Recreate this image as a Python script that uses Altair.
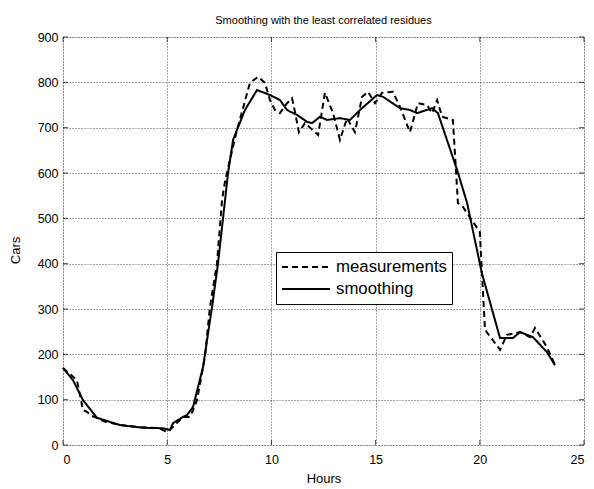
import altair as alt
import pandas as pd

# --- data ---
meas_hours = [0.0, 0.67, 0.96, 1.15, 1.39, 2.0, 2.74, 3.5, 4.2, 4.6, 4.99, 5.13, 5.76, 6.09, 6.24,
              6.43, 6.81, 7.05, 7.39, 7.63, 7.77, 8.01, 8.35, 8.97, 9.36, 9.69, 9.93, 10.17, 10.41,
              10.75, 10.99, 11.13, 11.32, 11.61, 12.24, 12.57, 12.96, 13.29, 13.63, 14.01, 14.35,
              14.64, 14.97, 15.31, 15.83, 16.17, 16.65, 17.03, 17.47, 17.71, 17.95, 18.19, 18.71,
              18.95, 19.19, 20.0, 20.25, 20.97, 21.3, 21.93, 22.41, 22.65, 23.22, 23.61]
meas_values = [170, 143, 77, 73, 64, 52, 44, 40, 38, 37, 29, 33, 62, 62, 77,
               99, 194, 304, 401, 540, 580, 629, 695, 799, 812, 799, 761, 739, 732,
               754, 765, 735, 690, 710, 684, 777, 732, 673, 721, 690, 768,
               779, 754, 777, 779, 746, 690, 754, 750, 732, 761, 724, 717,
               534, 525, 470, 254, 210, 243, 249, 238, 258, 216, 176]

smooth_hours = [0.0, 0.48, 0.96, 1.63, 2.74, 3.84, 4.8, 5.13, 5.28, 5.76, 5.95, 6.24, 6.72, 7.15,
                7.44, 7.92, 8.16, 8.73, 9.31, 9.93, 10.41, 10.75, 11.23, 11.71, 11.95, 12.33,
                12.67, 13.29, 13.77, 14.25, 15.07, 15.36, 16.17, 16.65, 16.99, 17.71, 17.99,
                18.91, 19.39, 20.1, 20.97, 21.59, 21.93, 22.55, 23.22, 23.61]
smooth_values = [170, 143, 99, 60, 44, 38, 37, 33, 48, 62, 66, 84, 172, 304,
                 401, 600, 673, 739, 783, 772, 761, 739, 728, 713, 710, 724,
                 717, 721, 717, 739, 772, 768, 743, 739, 732, 743, 732,
                 607, 534, 379, 236, 236, 249, 238, 205, 176]

series_names = ["measurements", "smoothing"]
x_ticks = [0, 5, 10, 15, 20, 25]
y_ticks = [0, 100, 200, 300, 400, 500, 600, 700, 800, 900]

W, H = 521, 408
FONT = "Liberation Sans"

df = pd.concat([
    pd.DataFrame({"Hours": meas_hours, "Cars": meas_values, "series": series_names[0],
                  "order": range(len(meas_hours))}),
    pd.DataFrame({"Hours": smooth_hours, "Cars": smooth_values, "series": series_names[1],
                  "order": range(len(smooth_hours))}),
])

xscale = alt.Scale(domain=[0, 25], nice=False, zero=False)
yscale = alt.Scale(domain=[0, 900], nice=False)

grid_common = dict(grid=True, gridColor="black", gridDash=[1, 2], gridWidth=0.8, gridOpacity=0.9,
                   domain=False, ticks=False, tickSize=0, labelFont=FONT, labelFontSize=12.5,
                   labelColor="black", titleFont=FONT, titleFontSize=13, titleFontWeight="normal",
                   titleColor="black")

lines = alt.Chart(df).mark_line(color="black", strokeWidth=2).encode(
    x=alt.X("Hours:Q", scale=xscale,
            axis=alt.Axis(values=x_ticks, title="Hours", labelPadding=8, titlePadding=7,
                          **grid_common)),
    y=alt.Y("Cars:Q", scale=yscale,
            axis=alt.Axis(values=y_ticks, title="Cars", labelPadding=5,
                          titleX=-48, titleY=213, titleAlign="center", titleBaseline="middle",
                          **grid_common)),
    strokeDash=alt.StrokeDash(
        "series:N",
        scale=alt.Scale(domain=series_names, range=[[6, 4], [1, 0]]),
        legend=alt.Legend(
            title=None, orient="none", legendX=213, legendY=215,
            strokeColor="black", fillColor="white", padding=5,
            symbolType="stroke", symbolSize=2304, symbolStrokeWidth=2,
            symbolStrokeColor="black", clipHeight=20, rowPadding=2,
            labelFont=FONT, labelFontSize=16.8, labelColor="black", labelOffset=5,
            cornerRadius=0,
        ),
    ),
    order="order:Q",
)

xt = pd.DataFrame({"v": x_ticks})
yt = pd.DataFrame({"v": y_ticks})
tick_bottom = alt.Chart(xt).mark_tick(color="black", size=5, thickness=1, orient="vertical").encode(
    x=alt.X("v:Q", scale=xscale), y=alt.value(H - 2.5))
tick_top = alt.Chart(xt).mark_tick(color="black", size=5, thickness=1, orient="vertical").encode(
    x=alt.X("v:Q", scale=xscale), y=alt.value(2.5))
tick_left = alt.Chart(yt).mark_tick(color="black", size=5, thickness=1, orient="horizontal").encode(
    y=alt.Y("v:Q", scale=yscale), x=alt.value(2.5))
tick_right = alt.Chart(yt).mark_tick(color="black", size=5, thickness=1, orient="horizontal").encode(
    y=alt.Y("v:Q", scale=yscale), x=alt.value(W - 2.5))

chart = alt.layer(lines, tick_bottom, tick_top, tick_left, tick_right).properties(
    width=W, height=H,
    padding={"left": 63, "top": 37, "right": 10, "bottom": 44},
    autosize=alt.AutoSizeParams(type="none"),
    title=alt.TitleParams("Smoothing with the least correlated residues", font=FONT, fontSize=11,
                          fontWeight="normal", color="black", anchor="middle", offset=5),
).configure_view(stroke="black", strokeWidth=1.5).configure(background="white")

chart.save("out.html", embed_options={"renderer": "svg", "actions": False})
